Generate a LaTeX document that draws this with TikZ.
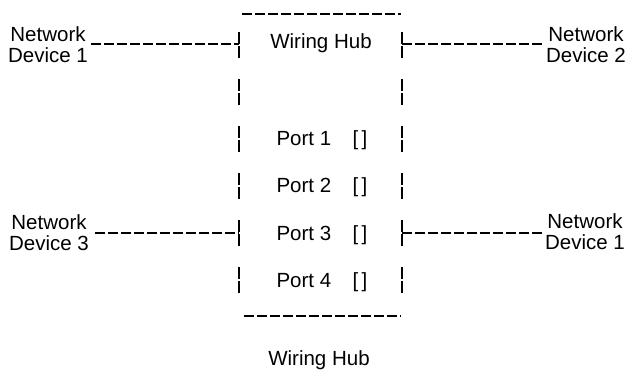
\documentclass[tikz,border=0pt]{standalone}
\usepackage{fontspec}
\setmainfont{Liberation Sans}
\begin{document}
\begin{tikzpicture}[x=1pt,y=-1pt,
  every node/.style={font=\fontsize{20.5}{20.5}\selectfont, inner sep=2pt, outer sep=1.5pt},
  devlabel/.style={align=center, anchor=base},
  portlabel/.style={anchor=base west, inner sep=0pt},
  hdash/.style={line width=2.1pt, dash pattern=on 9.5pt off 3.5pt},
  vdash/.style={line width=2.1pt, dash pattern=on 12pt off 2pt on 12pt off 21pt}]
\useasboundingbox (0,0) rectangle (627,375);

% hub outline corners
\coordinate (tl) at (242,14);
\coordinate (tr) at (401,14);
\coordinate (bl) at (244,316);
\coordinate (br) at (401,316);
\coordinate (ls) at (239,32);
\coordinate (le) at (239,293);
\coordinate (rs) at (402,32);
\coordinate (re) at (402,293);

% hub outline
\draw[hdash] (tl) -- (tr);
\draw[hdash] (bl) -- (br);
\draw[vdash] (ls) -- (le);
\draw[vdash] (rs) -- (re);

% hub labels
\node[anchor=base] (hubtitle) at (321,48) {Wiring Hub};
\node[anchor=base] (hubcaption) at (319,365) {Wiring Hub};

% ports
\foreach \k/\y in {1/145,2/192,3/240,4/287}{
  \node[portlabel] (port\k) at (275,\y) {Port \k};
  \node[portlabel] (slot\k) at (351,\y) {[\,]};
}

% attached devices (base anchor sits on the second line)
\node[devlabel] (nd1) at (48,62) {Network\\Device 1};
\node[devlabel] (nd2) at (586,62) {Network\\Device 2};
\node[devlabel] (nd3) at (49,250) {Network\\Device 3};
\node[devlabel] (nd4) at (585,249) {Network\\Device 1};

% connection points on the hub sides
\coordinate (p1) at (239,44);
\coordinate (p2) at (402,44);
\coordinate (p3) at (239,233);
\coordinate (p4) at (402,233);

% cables
\draw[hdash] (nd1.east |- p1) -- (p1);
\draw[hdash] (p2) -- (nd2.west |- p2);
\draw[hdash] ([xshift=3pt]nd3.east |- p3) -- (p3);
\draw[hdash] (p4) -- (nd4.west |- p4);
\end{tikzpicture}
\end{document}
